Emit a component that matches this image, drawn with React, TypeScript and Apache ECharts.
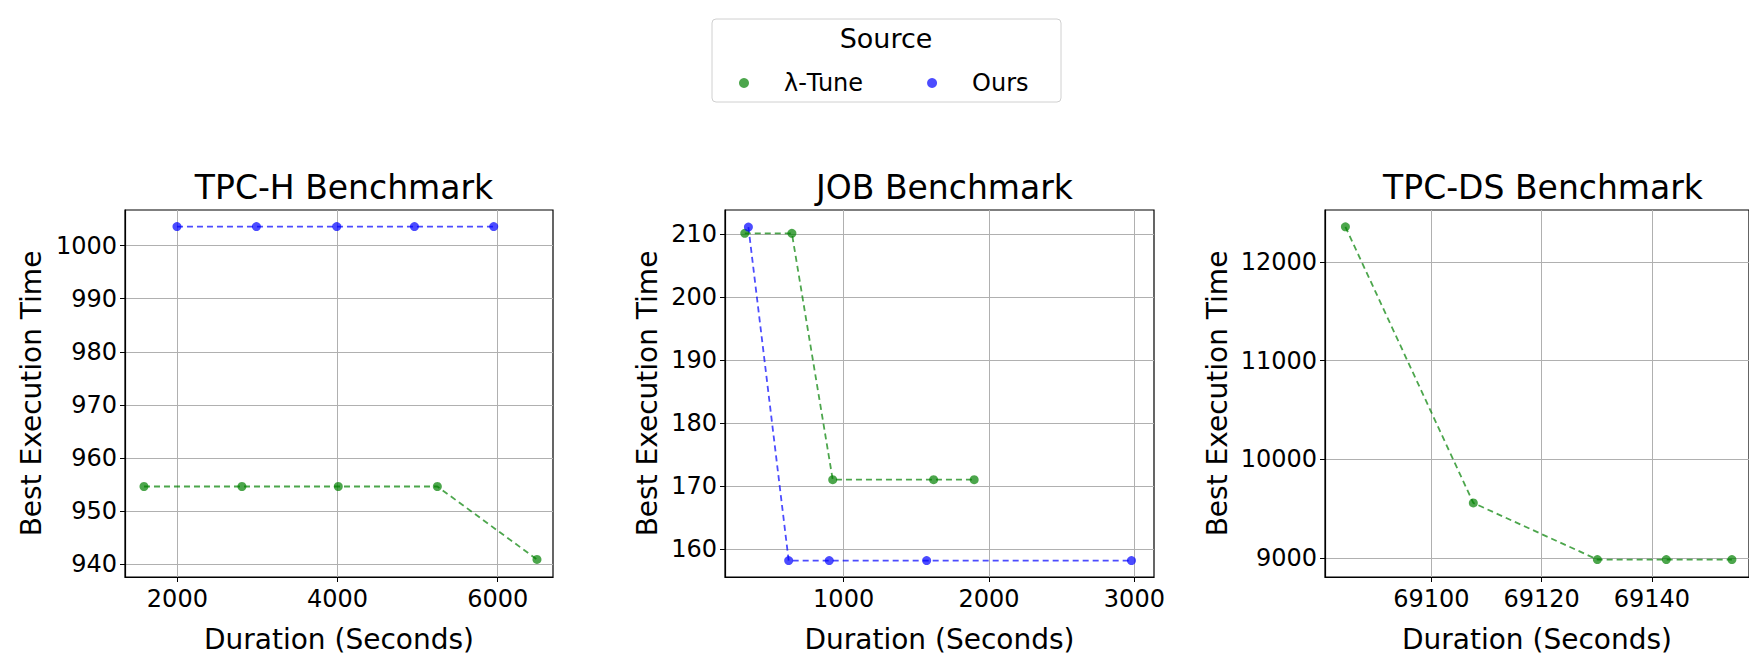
import { useRef, useEffect } from "react"
import * as echarts from "echarts"

const tpchTuneX = [1583, 2806, 4009, 5246, 6490]
const tpchTuneY = [954.64, 954.64, 954.64, 954.64, 940.9]
const tpchOursX = [1995, 2987, 3990, 4960, 5950]
const tpchOursY = [1003.57, 1003.57, 1003.57, 1003.57, 1003.57]

const jobTuneX = [320, 644, 925, 1619, 1898]
const jobTuneY = [210.1, 210.1, 171.04, 171.04, 171.04]
const jobOursX = [345, 622, 901, 1571, 2980]
const jobOursY = [211.1, 158.2, 158.2, 158.2, 158.2]

const dsTuneX = [69084.4, 69107.6, 69130.1, 69142.6, 69154.5]
const dsTuneY = [12356, 9558, 8985, 8985, 8985]

const tpchXTicks = [2000, 4000, 6000]
const tpchYTicks = [940, 950, 960, 970, 980, 990, 1000]
const jobXTicks = [1000, 2000, 3000]
const jobYTicks = [160, 170, 180, 190, 200, 210]
const dsXTicks = [69100, 69120, 69140]
const dsYTicks = [9000, 10000, 11000, 12000]

const titles = ["TPC-H Benchmark", "JOB Benchmark", "TPC-DS Benchmark"]

const GREEN = "rgba(0,128,0,0.7)"
const BLUE = "rgba(0,0,255,0.7)"
const FONT = "DejaVu Sans"

const zip = (xs: number[], ys: number[]) => xs.map((x, i) => [x, ys[i]])

export default function App() {
  const chartRef = useRef<HTMLDivElement>(null)

  useEffect(() => {
    if (!chartRef.current) return
    const chart = echarts.init(chartRef.current, null, { renderer: "svg" })

    const grids = [
      { left: 117, width: 428, top: 202, height: 387 },
      { left: 717, width: 429, top: 202, height: 387 },
      { left: 1317, width: 426, top: 202, height: 387 },
    ].map((g) => ({ ...g, show: true, borderColor: "#000", borderWidth: 1.2 }))
    const xr = [
      [1346, 6690, tpchXTicks],
      [184, 3135, jobXTicks],
      [69080.7, 69157.6, dsXTicks],
    ] as const
    const yr = [
      [937.6, 1006.7, tpchYTicks],
      [155.6, 213.8, jobYTicks],
      [8808, 12526, dsYTicks],
    ] as const

    const axisCommon = {
      axisLine: { onZero: false, lineStyle: { color: "#000", width: 1.2 } },
      axisTick: { show: true, length: 5, lineStyle: { color: "#000" } },
      splitLine: { show: true, lineStyle: { color: "#b0b0b0", width: 1 } },
      nameTextStyle: { fontSize: 28, color: "#000", fontFamily: FONT },
    }
    const fmt = (v: number) => String(v)

    const xAxis = xr.map(([min, max, ticks], i) => ({
      ...axisCommon,
      type: "value",
      gridIndex: i,
      min,
      max,
      name: "Duration (Seconds)",
      nameLocation: "middle",
      nameGap: 48,
      axisTick: { ...axisCommon.axisTick, customValues: ticks },
      axisLabel: { customValues: ticks, formatter: fmt, fontSize: 24, color: "#000", fontFamily: FONT, margin: 10 },
    }))
    const yAxis = yr.map(([min, max, ticks], i) => ({
      ...axisCommon,
      type: "value",
      gridIndex: i,
      min,
      max,
      name: "Best Execution Time",
      nameLocation: "middle",
      nameGap: i === 2 ? 94 : i === 0 ? 80 : 64,
      axisTick: { ...axisCommon.axisTick, customValues: ticks },
      axisLabel: { customValues: ticks, formatter: fmt, fontSize: 24, color: "#000", fontFamily: FONT, margin: 8 },
    }))

    const line = (name: string, color: string, data: number[][], i: number) => ({
      name,
      type: "line",
      xAxisIndex: i,
      yAxisIndex: i,
      data,
      symbol: "circle",
      symbolSize: 9,
      itemStyle: { color },
      lineStyle: { color, type: [6, 4], width: 1.8 },
    })

    const series = [
      line("λ-Tune", GREEN, zip(tpchTuneX, tpchTuneY), 0),
      line("Ours", BLUE, zip(tpchOursX, tpchOursY), 0),
      line("λ-Tune", GREEN, zip(jobTuneX, jobTuneY), 1),
      line("Ours", BLUE, zip(jobOursX, jobOursY), 1),
      line("λ-Tune", GREEN, zip(dsTuneX, dsTuneY), 2),
    ]

    chart.setOption({
      animation: false,
      textStyle: { fontFamily: FONT },
      title: titles.map((t, i) => ({
        text: t,
        left: grids[i].left + grids[i].width / 2,
        textAlign: "center",
        top: 158,
        textStyle: { fontSize: 33, fontWeight: "normal", color: "#000", fontFamily: FONT },
      })),
      legend: {
        data: ["λ-Tune", "Ours"],
        left: 726,
        top: 58,
        itemGap: 64,
        icon: "circle",
        itemWidth: 10,
        itemHeight: 10,
        textStyle: { fontSize: 24, color: "#000", fontFamily: FONT, padding: [0, 0, 0, 30] },
      },
      graphic: [
        {
          type: "rect",
          shape: { x: 704, y: 11, width: 349, height: 83, r: 4 },
          style: { fill: "#fff", stroke: "#d0d0d0", lineWidth: 1 },
          z: -1,
        },
        {
          type: "text",
          x: 878,
          y: 17,
          style: { text: "Source", fontSize: 27, fill: "#000", fontFamily: FONT, textAlign: "center" },
        },
      ],
      grid: grids,
      xAxis,
      yAxis,
      series,
    })

    return () => chart.dispose()
  }, [])

  return <div ref={chartRef} style={{ width: 1741, height: 650 }} />
}
